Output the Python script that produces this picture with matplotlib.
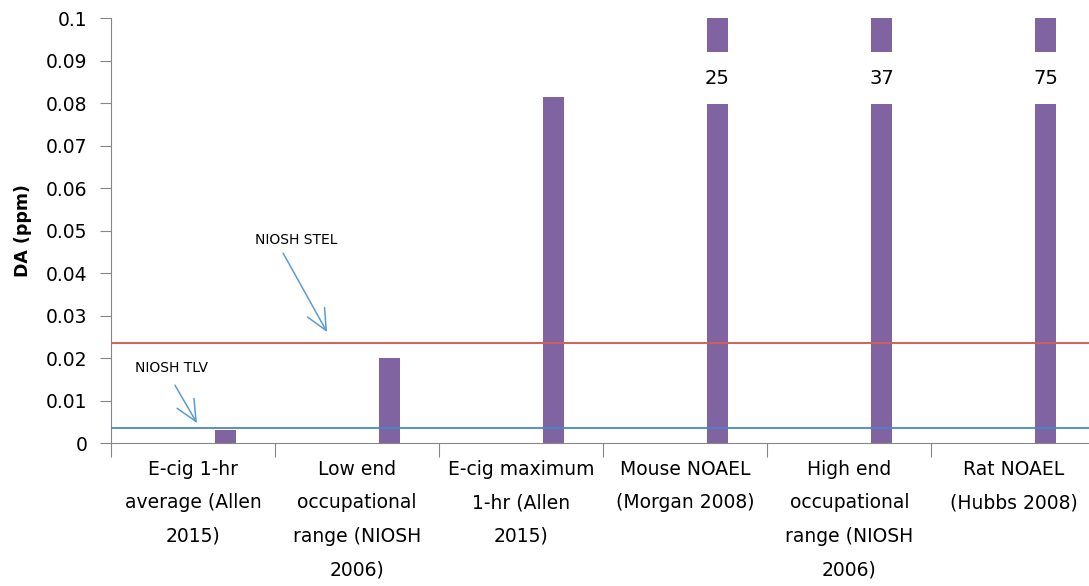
import numpy as np
import matplotlib.pyplot as plt
from matplotlib.ticker import FixedLocator, NullFormatter, FixedFormatter

categories = [
    "E-cig 1-hr\naverage (Allen\n2015)",
    "Low end\noccupational\nrange (NIOSH\n2006)",
    "E-cig maximum\n1-hr (Allen\n2015)",
    "Mouse NOAEL\n(Morgan 2008)",
    "High end\noccupational\nrange (NIOSH\n2006)",
    "Rat NOAEL\n(Hubbs 2008)",
]
da_ppm = [0.003, 0.02, 0.0815, 25, 37, 75]
niosh_tlv = 0.0035
niosh_stel = 0.0235

plt.rcParams["font.family"] = ["DejaVu Sans"]

bar_color = "#8064A2"
axis_color = "#868686"
ymax = 0.1
break_lo, break_hi = 0.0798, 0.092

fig = plt.figure(figsize=(10.89, 5.86), dpi=100)
ax = fig.add_axes([0.1019, 0.244, 0.8981, 0.725])

x = np.arange(len(categories))
xb = x + 0.195
w = 0.128
vals = np.array(da_ppm)
broken = vals > ymax
low = np.where(broken, break_lo, vals)
ax.bar(xb, low, width=w, color=bar_color, zorder=2)
ax.bar(xb[broken], ymax - break_hi, bottom=break_hi, width=w, color=bar_color, zorder=2)
for xi, v in zip(xb[broken], vals[broken]):
    ax.text(xi, (break_lo + break_hi) / 2, f"{v:g}", ha="center", va="center", fontsize=14)

ax.axhline(niosh_stel, color="#D0605C", lw=1.4, zorder=3)
ax.axhline(niosh_tlv, color="#4A86C8", lw=1.3, zorder=3)

# annotation text + arrows
arrow = dict(arrowstyle="->,head_length=0.75,head_width=0.35", color="#5B9BD5", lw=1.1,
             mutation_scale=20, shrinkA=0, shrinkB=0)
ax.text(0.628, 0.0478, "NIOSH STEL", fontsize=10, ha="center", va="center")
ax.annotate("", xy=(0.817, 0.0261), xytext=(0.549, 0.0447), arrowprops=arrow)
ax.text(-0.134, 0.0176, "NIOSH TLV", fontsize=10, ha="center", va="center")
ax.annotate("", xy=(0.024, 0.0047), xytext=(-0.11, 0.0136), arrowprops=arrow)

ax.set_xlim(-0.5, 5.46)
ax.set_ylim(0, ymax)
yt = np.round(np.arange(0, 0.1001, 0.01), 2)
ax.set_yticks(yt)
ax.set_yticklabels([f"{t:g}" for t in yt])
ax.xaxis.set_major_locator(FixedLocator(np.arange(-0.5, 6, 1.0)))
ax.xaxis.set_major_formatter(NullFormatter())
ax.xaxis.set_minor_locator(FixedLocator(x))
ax.xaxis.set_minor_formatter(FixedFormatter(categories))
ax.tick_params(axis="x", which="major", length=10, color=axis_color, direction="out")
ax.tick_params(axis="x", which="minor", length=0, pad=12, labelsize=13.5)
ax.tick_params(axis="y", length=8, color=axis_color, labelsize=13.5, pad=9)
for lab in ax.get_xticklabels(minor=True):
    lab.set_linespacing(1.97)

for s in ["top", "right"]:
    ax.spines[s].set_visible(False)
for s in ["left", "bottom"]:
    ax.spines[s].set_color(axis_color)
ax.set_ylabel("DA (ppm)", fontsize=12.5, fontweight="bold", labelpad=10)

fig.savefig("out.png", dpi=100, facecolor="white")
